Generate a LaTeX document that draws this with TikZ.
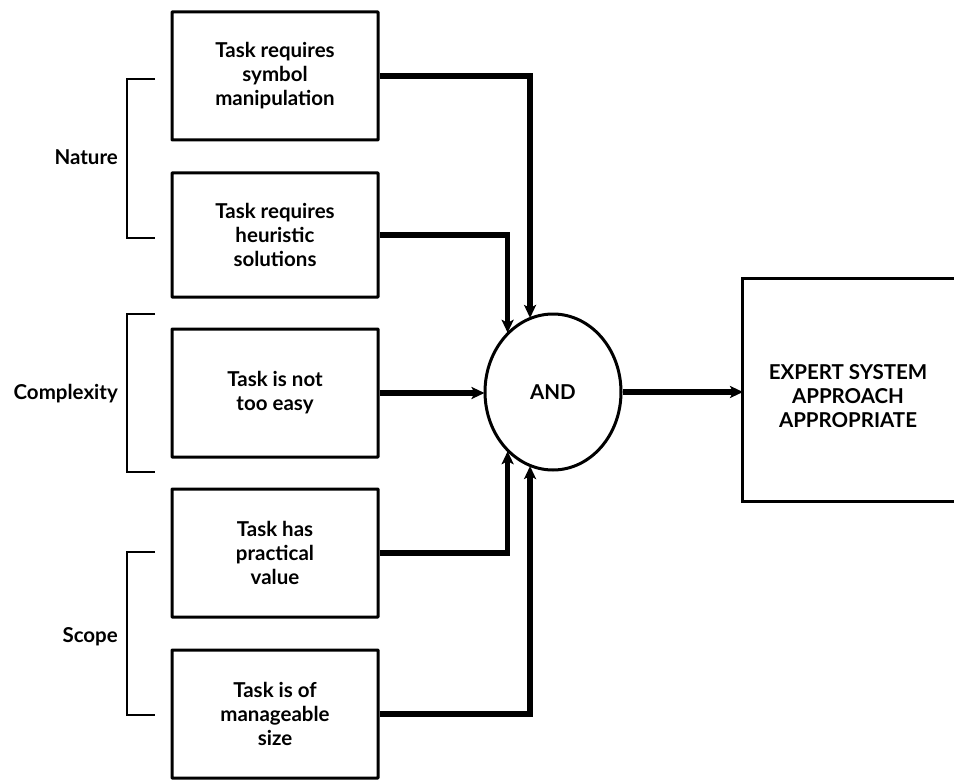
\documentclass[tikz,border=0pt]{standalone}
\usepackage{fontspec}
\setmainfont{Lato}
\usetikzlibrary{shapes.geometric,arrows.meta}
\begin{document}
\begin{tikzpicture}[x=1pt,y=-1pt,
  every node/.style={font=\fontsize{20.5}{24}\selectfont\bfseries, align=center},
  box/.style={draw, line width=3pt, minimum width=206pt, minimum height=128pt, inner sep=0pt, rounded corners=0.5pt},
  conn/.style={line width=5.5pt, -{Stealth[length=13pt,width=12pt,inset=3pt]}, shorten >=-1pt},
  brk/.style={line width=2.8pt},
  lbl/.style={anchor=east, inner sep=0pt}]
\useasboundingbox (0,0) rectangle (954,781);
\node[box] (b1) at (275,76) {Task requires\\symbol\\manipulation};
\node[box, minimum height=124pt] (b2) at (275,235) {Task requires\\heuristic\\solutions};
\node[box] (b3) at (275,393) {Task is not\\too easy};
\node[box] (b4) at (275,553) {Task has\\practical\\value};
\node[box] (b5) at (275,714) {Task is of\\manageable\\size};
\node[draw, ellipse, line width=3pt, minimum width=136pt, minimum height=156pt, inner sep=0pt] (and) at (553,392) {AND};
\node (out) at (848,396) {EXPERT SYSTEM\\APPROACH\\APPROPRIATE};
\coordinate (otl) at (742,278);
\coordinate (otr) at (956,278);
\coordinate (obl) at (742,501);
\coordinate (obr) at (956,501);
\draw[line width=3pt] (otr) -- (otl) -- (obl) -- (obr);
\coordinate (inp) at (742,392);
\draw[conn] (b1.east) -| (and.107);
\draw[conn] (b2.east) -| (and.127);
\draw[conn] (b3.east) -- (b3.east -| and.west);
\draw[conn] (b4.east) -| (and.233);
\draw[conn] (b5.east) -| (and.253);
\draw[conn] (and.east) -- (inp);
% brackets
\coordinate (n1) at (155,79); \coordinate (n2) at (155,238);
\coordinate (c1) at (155,314); \coordinate (c2) at (155,472);
\coordinate (s1) at (155,552); \coordinate (s2) at (155,715);
\draw[brk] (n1) -- ++(-28,0) |- (n2);
\draw[brk] (c1) -- ++(-28,0) |- (c2);
\draw[brk] (s1) -- ++(-28,0) |- (s2);
\node[lbl] (ln) at (118,157) {Nature};
\node[lbl] (lc) at (118,394) {Complexity};
\node[lbl] (ls) at (118,637) {Scope};
\end{tikzpicture}
\end{document}
